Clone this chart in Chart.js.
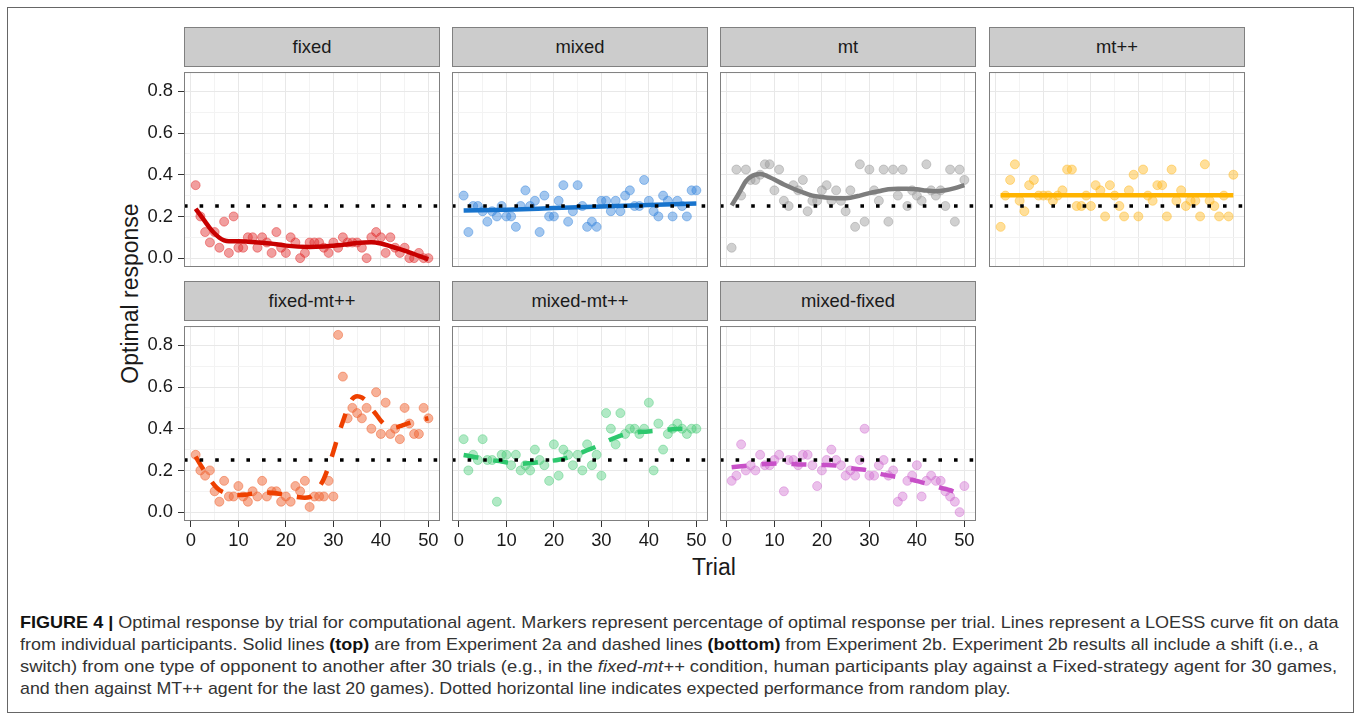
<!DOCTYPE html>
<html>
<head>
<meta charset="utf-8">
<script src="https://cdn.jsdelivr.net/npm/chart.js@4.4.0/dist/chart.umd.min.js"></script>
<style>
  body { margin: 0; background: #fff; width: 1360px; height: 722px; overflow: hidden; position: relative;
         font-family: "Liberation Sans", Arial, sans-serif; }
  .frame { position: absolute; left: 7px; top: 7px; width: 1347px; height: 706px; border: 1px solid #666; box-sizing: border-box; }
  .strip { position: absolute; background: #cccccc; border: 1px solid #808080; box-sizing: border-box;
           font-size: 18.4px; color: #1a1a1a; text-align: center; }
  canvas { position: absolute; }
  .title { position: absolute; font-size: 23px; color: #1a1a1a; white-space: nowrap; }
  .cap { position: absolute; left: 20px; font-family: "Liberation Sans Narrow", "Liberation Sans", Arial, sans-serif;
         font-size: 17px; line-height: 22px; color: #333; white-space: nowrap; transform-origin: 0 50%; }
  .cap b { color: #111; }
</style>
</head>
<body>
<div class="frame"></div>
<div class="title" id="ytitle">Optimal response</div>
<div class="title" id="xtitle">Trial</div>
<div class="cap" data-w="1319" style="top:612px"><b>FIGURE 4 |</b> Optimal response by trial for computational agent. Markers represent percentage of optimal response per trial. Lines represent a LOESS curve fit on data</div>
<div class="cap" data-w="1298" style="top:634px">from individual participants. Solid lines <b>(top)</b> are from Experiment 2a and dashed lines <b>(bottom)</b> from Experiment 2b. Experiment 2b results all include a shift (i.e., a</div>
<div class="cap" data-w="1317" style="top:656px">switch) from one type of opponent to another after 30 trials (e.g., in the <i>fixed-mt++</i> condition, human participants play against a Fixed-strategy agent for 30 games,</div>
<div class="cap" data-w="991" style="top:678px">and then against MT++ agent for the last 20 games). Dotted horizontal line indicates expected performance from random play.</div>

<script>
// trial numbers and tick marks
var trials = [1,2,3,4,5,6,7,8,9,10,11,12,13,14,15,16,17,18,19,20,21,22,23,24,25,
              26,27,28,29,30,31,32,33,34,35,36,37,38,39,40,41,42,43,44,45,46,47,48,49,50];
var xMajor = [0, 10, 20, 30, 40, 50];
var xMinor = [5, 15, 25, 35, 45];
var yMajor = [0, 0.2, 0.4, 0.6, 0.8];
var yMinor = [0.1, 0.3, 0.5, 0.7];
var chance = 0.25;

var panelNames = ["fixed", "mixed", "mt", "mt++", "fixed-mt++", "mixed-mt++", "mixed-fixed"];

// markers: share of optimal responses per trial
var fixedPts = [0.35,0.2,0.125,0.075,0.125,0.05,0.175,0.025,0.2,0.05, 0.05,0.1,0.1,0.05,0.1,0.075,0.025,0.125,0.05,0.025,
                0.1,0.075,0,0.025,0.075,0.075,0.075,0.05,0.025,0.075, 0.05,0.1,0.075,0.075,0.075,0.05,0,0.1,0.125,0.1,
                0.025,0.1,0.05,0.025,0.05,0,0,0.025,0,0];
var mixedPts = [0.3,0.125,0.25,0.25,0.225,0.175,0.225,0.2,0.25,0.2, 0.2,0.15,0.25,0.325,0.25,0.275,0.125,0.3,0.2,0.2,
                0.275,0.35,0.175,0.225,0.35,0.25,0.15,0.175,0.15,0.275, 0.275,0.225,0.275,0.225,0.3,0.325,0.25,0.25,0.375,0.275,
                0.225,0.2,0.3,0.275,0.2,0.275,0.25,0.2,0.325,0.325];
var mtPts = [0.05,0.425,0.3,0.425,0.375,0.375,0.4,0.45,0.45,0.325, 0.425,0.275,0.25,0.35,0.325,0.375,0.225,0.275,0.275,0.325,
             0.35,0.275,0.325,0.275,0.225,0.325,0.15,0.45,0.175,0.425, 0.325,0.275,0.425,0.175,0.425,0.3,0.425,0.25,0.325,0.3,
             0.275,0.45,0.325,0.3,0.325,0.25,0.425,0.175,0.425,0.375];
var mtppPts = [0.15,0.3,0.375,0.45,0.275,0.225,0.35,0.375,0.3,0.3, 0.3,0.275,0.3,0.325,0.425,0.425,0.25,0.25,0.3,0.25,
               0.35,0.325,0.2,0.35,0.3,0.25,0.2,0.325,0.4,0.2, 0.425,0.3,0.275,0.35,0.35,0.2,0.425,0.275,0.325,0.25,
               0.275,0.275,0.2,0.45,0.275,0.25,0.2,0.3,0.2,0.4];
var fixedMtppPts = [0.275,0.2,0.175,0.2,0.1,0.05,0.15,0.075,0.075,0.125, 0.075,0.05,0.1,0.075,0.15,0.075,0.1,0.1,0.05,0.075,
                    0.05,0.125,0.1,0.15,0.025,0.075,0.075,0.075,0.15,0.075, 0.85,0.65,0.45,0.5,0.475,0.45,0.5,0.4,0.575,0.375,
                    0.525,0.375,0.4,0.35,0.5,0.425,0.375,0.375,0.5,0.45];
var mixedMtppPts = [0.35,0.2,0.275,0.25,0.35,0.25,0.25,0.05,0.275,0.275, 0.225,0.275,0.2,0.225,0.2,0.3,0.25,0.225,0.15,0.325,
                    0.175,0.3,0.275,0.225,0.275,0.2,0.325,0.225,0.275,0.175, 0.475,0.4,0.325,0.475,0.375,0.4,0.4,0.375,0.4,0.525,
                    0.2,0.425,0.3,0.375,0.4,0.425,0.4,0.375,0.4,0.4];
var mixedFixedPts = [0.15,0.175,0.325,0.2,0.225,0.2,0.275,0.225,0.225,0.25, 0.275,0.1,0.25,0.25,0.225,0.275,0.275,0.225,0.125,0.2,
                     0.25,0.3,0.25,0.225,0.175,0.2,0.175,0.25,0.4,0.175, 0.175,0.225,0.25,0.175,0.2,0.05,0.075,0.15,0.175,0.225,
                     0.075,0.15,0.175,0.15,0.15,0.1,0.075,0.05,0,0.125];

// LOESS curves (trial, value)
var fixedFitX = [1,2,3,4,5,6,7,8,10,12,15,18,20,25,28,30,33,35,38,40,42,44,46,48,50];
var fixedFitY = [0.237,0.206,0.175,0.144,0.118,0.098,0.085,0.081,0.081,0.079,0.074,0.067,0.06,0.054,0.056,0.059,0.067,0.073,0.076,0.07,0.057,0.043,0.028,0.011,-0.005];
var mixedFitX = [1,10,20,30,40,50];
var mixedFitY = [0.228,0.232,0.24,0.248,0.255,0.262];
var mtFitX = [1,2,3,4,5,6,7,8,9,10,12,14,16,18,20,22,24,26,28,30,32,34,36,38,40,42,44,46,48,50];
var mtFitY = [0.253,0.29,0.33,0.369,0.39,0.4,0.403,0.398,0.388,0.377,0.353,0.333,0.315,0.3,0.293,0.288,0.287,0.29,0.3,0.312,0.321,0.33,0.333,0.333,0.33,0.324,0.321,0.326,0.336,0.35];
var mtppFitX = [1,50];
var mtppFitY = [0.302,0.302];
var fixedMtppFitX = [1,2,3,4,5,6,7,8,10,12,14,16,18,20,22,24,25,26,27,28,29,30,31,32,33,34,35,36,37,38,39,40,41,42,43,44,45,46,47,48,50];
var fixedMtppFitY = [0.266,0.228,0.192,0.158,0.128,0.106,0.094,0.085,0.082,0.085,0.091,0.094,0.091,0.082,0.074,0.069,0.072,0.09,0.12,0.16,0.22,0.29,0.366,0.435,0.497,0.543,0.556,0.55,0.531,0.497,0.469,0.438,0.417,0.405,0.405,0.412,0.42,0.428,0.435,0.44,0.45];
var mixedMtppFitX = [1,3,5,7,9,11,13,15,17,19,21,23,25,27,29,31,33,35,37,39,41,43,45,47,49,50];
var mixedMtppFitY = [0.274,0.266,0.257,0.249,0.243,0.235,0.232,0.235,0.24,0.245,0.251,0.262,0.278,0.297,0.315,0.338,0.358,0.374,0.382,0.386,0.389,0.394,0.398,0.4,0.398,0.397];
var mixedFixedFitX = [1,3,5,7,9,11,13,15,17,19,21,23,25,27,29,31,33,35,37,39,41,43,45,47,48,50];
var mixedFixedFitY = [0.215,0.22,0.225,0.229,0.232,0.234,0.232,0.229,0.228,0.226,0.226,0.223,0.215,0.208,0.203,0.192,0.18,0.172,0.163,0.155,0.143,0.131,0.117,0.105,0.097,0.085];

var allPts = [fixedPts, mixedPts, mtPts, mtppPts, fixedMtppPts, mixedMtppPts, mixedFixedPts];
var allFitX = [fixedFitX, mixedFitX, mtFitX, mtppFitX, fixedMtppFitX, mixedMtppFitX, mixedFixedFitX];
var allFitY = [fixedFitY, mixedFitY, mtFitY, mtppFitY, fixedMtppFitY, mixedMtppFitY, mixedFixedFitY];

// styles
var lineColors = ['rgb(200,0,0)', 'rgb(24,116,205)', 'rgb(125,125,125)', 'rgb(255,180,0)',
                  'rgb(238,64,0)', 'rgb(46,200,110)', 'rgb(200,80,200)'];
var pointColors = ['rgba(225,40,40,0.45)', 'rgba(50,130,220,0.45)', 'rgba(150,150,150,0.45)', 'rgba(255,185,30,0.45)',
                   'rgba(240,100,50,0.5)', 'rgba(60,200,110,0.4)', 'rgba(205,100,205,0.4)'];
var colLeft = [184, 452, 720, 989];
var rowTop = [66, 320];
var panelW = 256, panelH = 201, stripH = 39;
var padL = 70, padT = 10, padR = 14, padB = 40;
var xMin = -1.45, xMax = 52.45, yMin = -0.0425, yMax = 0.8925;

function inList(list, v) {
    for (var i = 0; i < list.length; i++) if (Math.abs(list[i] - v) < 1e-6) return true;
    return false;
}

// panel border drawn over the data
var borderPlugin = {
    id: 'panelBorder',
    afterDraw: function(chart) {
        var a = chart.chartArea, c = chart.ctx;
        c.save();
        c.strokeStyle = '#7f7f7f';
        c.lineWidth = 1;
        c.strokeRect(a.left + 0.5, a.top + 0.5, a.right - a.left - 1, a.bottom - a.top - 1);
        c.restore();
    }
};

function makePanel(i) {
    var row = i < 4 ? 0 : 1;
    var col = i < 4 ? i : i - 4;
    var left = colLeft[col], top = rowTop[row];
    var showY = col === 0, showX = row === 1;

    var strip = document.createElement('div');
    strip.className = 'strip';
    strip.style.left = left + 'px';
    strip.style.top = (top - stripH) + 'px';
    strip.style.width = panelW + 'px';
    strip.style.height = (stripH + 1) + 'px';
    strip.style.lineHeight = (stripH - 2) + 'px';
    strip.textContent = panelNames[i];
    document.body.appendChild(strip);

    var cv = document.createElement('canvas');
    cv.width = padL + panelW + padR;
    cv.height = padT + panelH + padB;
    cv.style.left = (left - padL) + 'px';
    cv.style.top = (top - padT) + 'px';
    document.body.appendChild(cv);

    var points = trials.map(function(t, k) { return {x: t, y: allPts[i][k]}; });
    var fit = allFitX[i].map(function(t, k) { return {x: t, y: allFitY[i][k]}; });
    var ticksFont = {family: '"Liberation Sans", Arial, sans-serif', size: 18.4};

    new Chart(cv, {
        type: 'scatter',
        data: {
            datasets: [{
                type: 'line',
                data: [{x: xMin, y: chance}, {x: xMax, y: chance}],
                borderColor: '#000',
                borderWidth: 3.6,
                borderDash: [3.6, 12],
                pointRadius: 0
            }, {
                type: 'line',
                data: fit,
                borderColor: lineColors[i],
                borderWidth: 4.5,
                borderDash: row === 1 ? [15, 15] : [],
                cubicInterpolationMode: 'monotone',
                pointRadius: 0
            }, {
                data: points,
                backgroundColor: pointColors[i],
                borderColor: pointColors[i],
                borderWidth: 1,
                pointRadius: 4.5
            }]
        },
        options: {
            responsive: false,
            animation: false,
            devicePixelRatio: 1,
            layout: { padding: {left: 0, top: padT, right: padR, bottom: 0} },
            plugins: { legend: {display: false}, tooltip: {enabled: false} },
            scales: {
                x: {
                    type: 'linear', min: xMin, max: xMax,
                    afterBuildTicks: function(s) {
                        s.ticks = xMajor.concat(xMinor).sort(function(a, b) { return a - b; })
                            .map(function(v) { return {value: v}; });
                    },
                    afterFit: function(s) { s.height = padB; },
                    border: {display: false},
                    grid: {
                        color: function(c) { return inList(xMajor, c.tick.value) ? '#e8e8e8' : '#f3f3f3'; },
                        lineWidth: 1,
                        tickLength: 6,
                        tickColor: function(c) { return showX && inList(xMajor, c.tick.value) ? '#333' : 'rgba(0,0,0,0)'; }
                    },
                    ticks: {
                        autoSkip: false, maxRotation: 0, padding: 3,
                        color: showX ? '#1a1a1a' : 'rgba(0,0,0,0)',
                        font: ticksFont,
                        callback: function(v) { return inList(xMajor, v) ? String(v) : ''; }
                    }
                },
                y: {
                    min: yMin, max: yMax,
                    afterBuildTicks: function(s) {
                        s.ticks = yMajor.concat(yMinor).sort(function(a, b) { return a - b; })
                            .map(function(v) { return {value: v}; });
                    },
                    afterFit: function(s) { s.width = padL; },
                    border: {display: false},
                    grid: {
                        color: function(c) { return inList(yMajor, c.tick.value) ? '#e8e8e8' : '#f3f3f3'; },
                        lineWidth: 1,
                        tickLength: 6,
                        tickColor: function(c) { return showY && inList(yMajor, c.tick.value) ? '#333' : 'rgba(0,0,0,0)'; }
                    },
                    ticks: {
                        autoSkip: false, padding: 5,
                        color: showY ? '#1a1a1a' : 'rgba(0,0,0,0)',
                        font: ticksFont,
                        callback: function(v) { return inList(yMajor, v) ? v.toFixed(1) : ''; }
                    }
                }
            }
        },
        plugins: [borderPlugin]
    });
}

for (var p = 0; p < panelNames.length; p++) makePanel(p);

// axis titles
var yt = document.getElementById('ytitle');
yt.style.left = (130 - yt.offsetWidth / 2) + 'px';
yt.style.top = (293 - yt.offsetHeight / 2) + 'px';
yt.style.transform = 'rotate(-90deg)';
var xt = document.getElementById('xtitle');
xt.style.left = (714 - xt.offsetWidth / 2) + 'px';
xt.style.top = (567 - xt.offsetHeight / 2) + 'px';

// stretch caption lines to the widths of the original
var caps = document.querySelectorAll('.cap');
for (var c = 0; c < caps.length; c++) {
    var w = caps[c].scrollWidth;
    caps[c].style.transform = 'scaleX(' + (parseFloat(caps[c].getAttribute('data-w')) / w) + ')';
}
</script>
</body>
</html>
